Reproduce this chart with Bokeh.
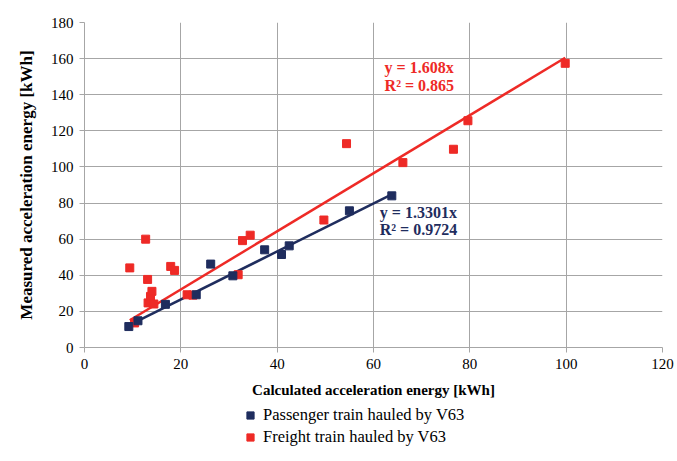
import numpy as np
from bokeh.plotting import figure
from bokeh.layouts import column
from bokeh.models import Legend, LegendItem, Label, FixedTicker
from bokeh.embed import file_html
from bokeh.resources import INLINE

# Data
passenger_x = [9.2, 11.1, 16.8, 23.2, 26.2, 30.8, 37.4, 40.9, 42.5, 55.0, 63.8]
passenger_y = [11.6, 14.8, 23.9, 29.2, 46.2, 39.7, 54.1, 51.5, 56.3, 75.7, 84.0]
freight_x = [9.4, 10.4, 12.7, 13.1, 13.2, 13.7, 14.0, 14.4, 17.9, 18.7, 21.3, 22.5,
             31.9, 32.8, 34.4, 49.7, 54.4, 66.1, 76.6, 79.6, 99.8]
freight_y = [44.1, 13.6, 60.0, 37.7, 24.7, 28.3, 31.1, 24.1, 44.9, 42.7, 29.2, 29.0,
             40.3, 59.2, 62.2, 70.6, 112.9, 102.4, 109.8, 125.6, 157.4]
passenger_slope = 1.3301
passenger_r2 = "0.9724"
freight_slope = 1.608
freight_r2 = "0.865"
x_ticks = [0, 20, 40, 60, 80, 100, 120]
y_ticks = [0, 20, 40, 60, 80, 100, 120, 140, 160, 180]
series_names = ["Passenger train hauled by V63", "Freight train hauled by V63"]
x_title = "Calculated acceleration energy [kWh]"
y_title = "Measured acceleration energy [kWh]"

BLUE = "#1F2D5E"
RED = "#EE2A26"
GRID = "#A6A6A6"
FONT = "Liberation Serif"

p = figure(width=677, height=400,
           x_range=(0, 120), y_range=(0, 180),
           min_border_left=84, min_border_right=15, min_border_top=22, min_border_bottom=52,
           output_backend="svg", toolbar_location=None, background_fill_color="white",
           border_fill_color="white")
p.outline_line_color = None

p.axis.major_label_text_font = FONT
p.axis.major_label_text_font_size = "15px"
p.axis.major_label_text_color = "black"
p.axis.axis_line_color = GRID
p.axis.major_tick_line_color = GRID
p.axis.major_tick_out = 5
p.axis.major_tick_in = 0
p.axis.minor_tick_line_color = None
p.axis.axis_label_text_font = FONT
p.axis.axis_label_text_font_style = "bold"
p.axis.axis_label_text_color = "black"
p.xaxis.ticker = FixedTicker(ticks=x_ticks)
p.yaxis.ticker = FixedTicker(ticks=y_ticks)
p.xaxis.major_label_standoff = 6
p.yaxis.major_label_standoff = 6
p.xaxis.axis_label = x_title
p.yaxis.axis_label = y_title
p.xaxis.axis_label_text_font_size = "15px"
p.yaxis.axis_label_text_font_size = "17px"
p.xaxis.axis_label_standoff = 10
p.yaxis.axis_label_standoff = 12

p.xgrid.ticker = FixedTicker(ticks=x_ticks)
p.ygrid.ticker = FixedTicker(ticks=y_ticks)
p.xgrid.grid_line_color = GRID
p.ygrid.grid_line_color = GRID
p.xgrid.grid_line_width = 1
p.ygrid.grid_line_width = 1

# trend lines through origin
px0, px1 = min(passenger_x), max(passenger_x)
fx0, fx1 = min(freight_x), max(freight_x)
p.line([fx0, fx1], [freight_slope * fx0, freight_slope * fx1], line_color=RED, line_width=2.5)
p.line([px0, px1], [passenger_slope * px0, passenger_slope * px1], line_color=BLUE, line_width=2.5)

p.scatter(freight_x, freight_y, marker="square", size=8, fill_color=RED, line_color=RED)
p.scatter(passenger_x, passenger_y, marker="square", size=8, fill_color=BLUE, line_color=BLUE)

# equation labels
for txt, yv in ((f"y = {freight_slope}x", 155), (f"R² = {freight_r2}", 145)):
    p.add_layout(Label(x=62.3, y=yv, text=txt, text_font=FONT, text_font_style="bold",
                       text_font_size="16px", text_color=RED, text_baseline="middle"))
for txt, yv in ((f"y = {passenger_slope}x", 75), (f"R² = {passenger_r2}", 65.5)):
    p.add_layout(Label(x=61.3, y=yv, text=txt, text_font=FONT, text_font_style="bold",
                       text_font_size="16px", text_color=BLUE, text_baseline="middle"))

# legend strip below the chart (its glyph renderers hold one point each, out of view)
q = figure(width=677, height=61, x_range=(0, 1), y_range=(0, 1),
           min_border=0, output_backend="svg", toolbar_location=None,
           x_axis_type=None, y_axis_type=None, background_fill_color="white",
           border_fill_color="white")
q.outline_line_color = None
q.grid.visible = False
lp = q.scatter(passenger_x[:1], passenger_y[:1], marker="square", size=8,
               fill_color=BLUE, line_color=BLUE)
lf = q.scatter(freight_x[:1], freight_y[:1], marker="square", size=8,
               fill_color=RED, line_color=RED)
legend = Legend(items=[LegendItem(label=series_names[0], renderers=[lp], index=0),
                       LegendItem(label=series_names[1], renderers=[lf], index=0)],
                location=(157, 14), orientation="vertical",
                label_text_font=FONT, label_text_font_size="16.5px", label_text_color="black",
                glyph_width=18, glyph_height=20, label_height=20, label_standoff=4,
                spacing=2, padding=0, margin=0,
                border_line_color=None, background_fill_alpha=0)
q.add_layout(legend, "center")

layout = column(p, q, spacing=0)
open("out.html", "w").write(file_html(layout, INLINE))
